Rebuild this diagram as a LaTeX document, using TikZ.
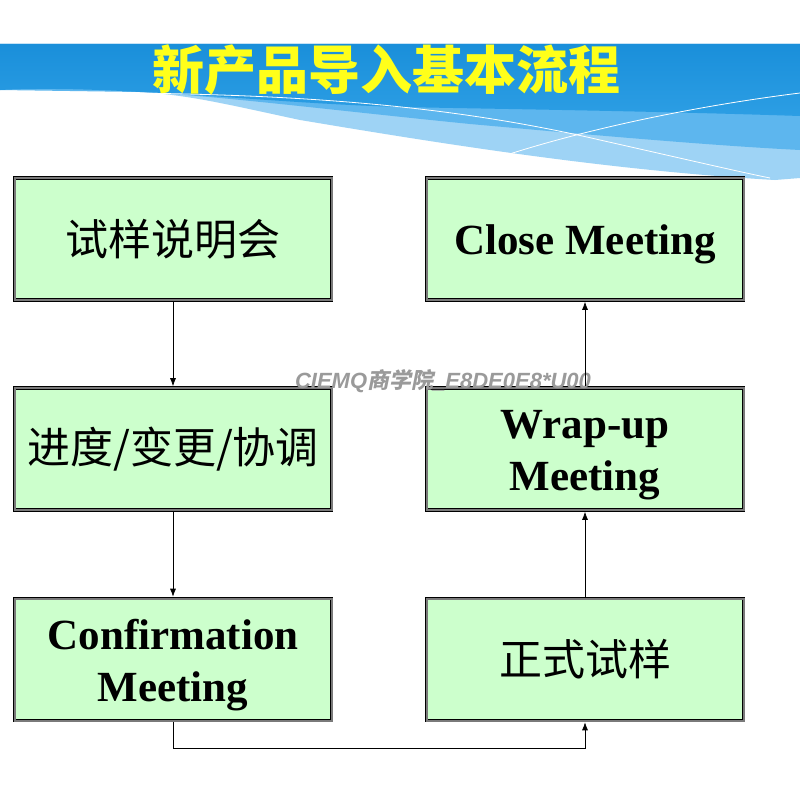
\documentclass[tikz,border=0pt]{standalone}
\usepackage{fontspec}
\setmainfont{Liberation Serif}
\newfontfamily\cjk{Noto Sans CJK SC}
\newfontfamily\cjkwm[FakeSlant=0.2]{Noto Sans CJK SC}
\newfontfamily\wmfont{Liberation Sans}
\usetikzlibrary{arrows.meta}
\definecolor{boxfill}{HTML}{CCFFCC}
\definecolor{bordergray}{HTML}{7A7A7A}
\definecolor{skytop}{HTML}{1A8FDA}
\definecolor{skybot}{HTML}{2C9EE4}
\definecolor{skymid}{HTML}{5DB6EE}
\definecolor{skylight}{HTML}{9ED3F5}
\definecolor{titleyellow}{HTML}{FFFF1A}
\definecolor{wmgray}{HTML}{9A9A9A}
\newcommand{\upstrut}{\rule{0pt}{41pt}}
\tikzset{
  flowbox/.style={draw=black, line width=0.8pt, double=bordergray, double distance=2pt,
    fill=boxfill, minimum width=317pt, minimum height=122pt, inner sep=0pt,
    outer sep=1.8pt, align=center},
  cjktext/.style={font=\cjk\fontsize{43}{50}\selectfont},
  entext/.style={font=\bfseries\fontsize{43}{52}\selectfont},
  arr/.style={draw=black, line width=0.7pt, -{Latex[length=8pt,width=6pt]}}
}
\begin{document}
\begin{tikzpicture}[x=1pt,y=-1pt]
\useasboundingbox (0,0) rectangle (800,800);
\fill[white] (0,0) rectangle (800,800);
% header background
\fill[skylight] (0,44) -- (800,44) -- (800,178) -- (775,180)
  .. controls (600,170) and (420,140) .. (300,120)
  .. controls (230,105) and (190,95) .. (140,92)
  .. controls (90,89) and (40,88) .. (0,90) -- cycle;
\fill[skymid] (0,44) -- (800,44) -- (800,150)
  .. controls (700,145) and (560,132) .. (470,124)
  .. controls (330,110) and (220,96) .. (140,92) -- (0,90) -- cycle;
\shade[top color=skytop, bottom color=skybot] (0,44) -- (800,44) -- (800,116)
  .. controls (650,111) and (500,109) .. (400,107)
  .. controls (300,104) and (200,94) .. (140,92)
  .. controls (90,89) and (40,88) .. (0,90) -- cycle;
\draw[white, line width=0.8pt] (130,93) .. controls (300,95) and (450,105) .. (600,140)
  .. controls (680,158) and (740,172) .. (770,178);
\draw[white, line width=0.8pt] (477,165) .. controls (560,135) and (680,108) .. (800,93);
% title
\node (title) at (386,70) {\cjk\bfseries\fontsize{52}{56}\selectfont\color{titleyellow}新产品导入基本流程};
% boxes
\node[flowbox, cjktext] (b1) at (173,239) {试样说明会};
\node[flowbox, cjktext] (b2) at (173,449) {进度/变更/协调};
\node[flowbox, entext] (b3) at (173,659.5) {\upstrut Confirmation\\Meeting};
\node[flowbox, entext] (b4) at (585,239) {\upstrut Close Meeting};
\node[flowbox, entext] (b5) at (585,449) {\upstrut Wrap-up\\Meeting};
\node[flowbox, cjktext] (b6) at (585,659.5) {正式试样};
% watermark
\node[text=wmgray, font=\wmfont\bfseries\itshape\fontsize{22}{24}\selectfont] (wm) at (443,381)
  {CIEMQ{\cjkwm 商学院}\_E8DE0E8*U00};
% connectors
\coordinate (turn) at (173,748);
\draw[arr] (b1.south) -- (b2.north);
\draw[arr] (b2.south) -- (b3.north);
\draw[arr] (b3.south) -- (b3.south |- turn) -| (b6.south);
\draw[arr] (b6.north) -- (b5.south);
\draw[arr] (b5.north) -- (b4.south);
\end{tikzpicture}
\end{document}
